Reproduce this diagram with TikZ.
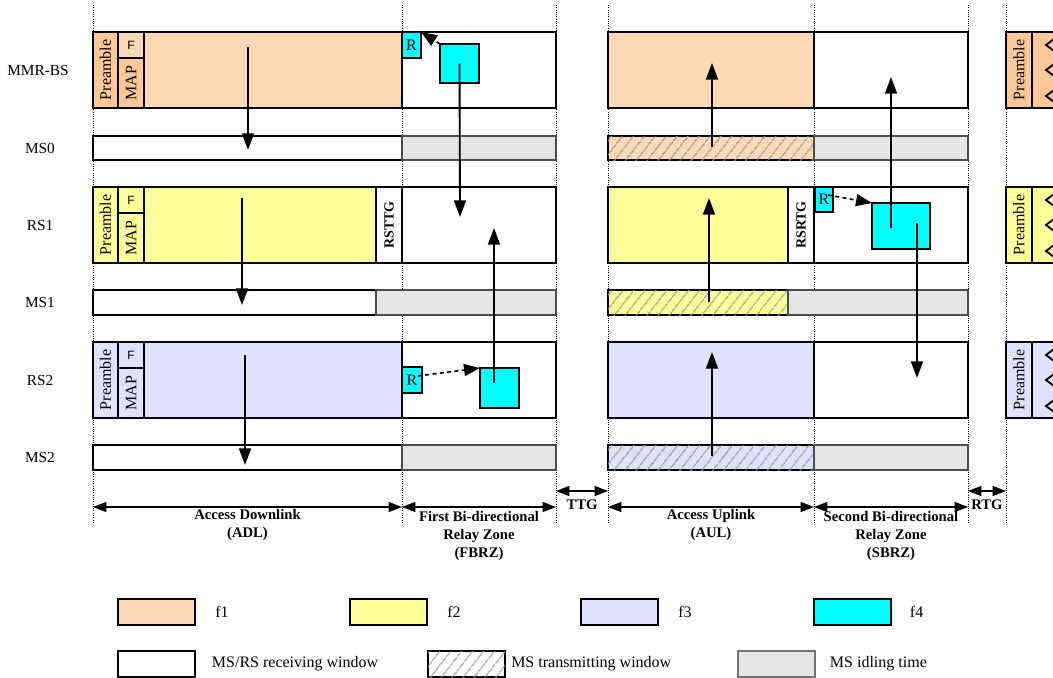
\documentclass[tikz,border=0pt]{standalone}
\usepackage{fontspec}
\setmainfont{Liberation Serif}
\newfontfamily\sansfont{Liberation Sans}
\usepackage{xcolor}
\usepackage{tikz}
\usetikzlibrary{arrows.meta,positioning,calc,fit,patterns.meta}
\definecolor{fone}{HTML}{FDD9B5}
\definecolor{fonedark}{HTML}{FBC896}
\definecolor{ftwo}{HTML}{FFFF99}
\definecolor{fthree}{HTML}{E0E0FF}
\definecolor{ffour}{HTML}{00FFFF}
\definecolor{idlegray}{HTML}{E5E5E5}
\definecolor{hatchgray}{HTML}{999999}
\tikzset{
  frame/.style={draw=black,line width=1.5pt,inner sep=0pt,outer sep=0pt},
  bar/.style={draw=black,line width=0.8pt,inner sep=0pt,outer sep=0pt,fill=white},
  idle/.style={bar,draw=black!70,fill=idlegray},
  txbar/.style={bar,fill=#1,postaction={pattern={Lines[angle=52,distance=6.5pt,line width=0.9pt]},pattern color=hatchgray}},
  relay/.style={draw=black,line width=1.4pt,fill=ffour,inner sep=0pt,outer sep=0pt},
  rbox/.style={draw=black,line width=1pt,fill=ffour,inner sep=0pt,outer sep=0pt,
    label={[font=\fontsize{12}{13}\selectfont]center:R}},
  guide/.style={densely dotted,line width=0.7pt},
  flow/.style={line width=1.4pt,-{Triangle[length=12.5pt,width=9pt]}},
  hop/.style={line width=1.2pt,dash pattern=on 3pt off 2.5pt,-{Triangle[length=12pt,width=9pt]}},
  dim/.style={line width=0.8pt,{Triangle[length=10pt,width=7.5pt]}-{Triangle[length=10pt,width=7.5pt]}},
  zone/.style={font=\fontsize{11}{13.5}\selectfont\bfseries,align=center,inner sep=1pt},
  rowlab/.style={font=\fontsize{11.5}{13}\selectfont},
  vlab/.style={rotate=90,font=\fontsize{12}{14}\selectfont,inner sep=0pt},
  gaplab/.style={rotate=90,font=\fontsize{10.5}{12}\selectfont\bfseries,inner sep=0pt},
  flab/.style={font=\sansfont\fontsize{9}{10}\selectfont,inner sep=0pt},
  legbox/.style={draw=black,line width=0.9pt,inner sep=0pt,outer sep=0pt},
  legtxt/.style={font=\fontsize{12}{14}\selectfont,inner sep=0pt,anchor=west},
}
\begin{document}
\begin{tikzpicture}[x=0.75pt,y=-0.75pt]
  \useasboundingbox (0,0) rectangle (1053,678);
  \clip (0,0) rectangle (1053,678);

  % zone boundaries
  \foreach \x/\n in {93/a,402/b,556/c,608/d,814/e,968/f,1006/g}{
    \draw[guide] (\x,5) -- (\x,522);
    \coordinate (z\n) at (\x,507);
    \coordinate (g\n) at (\x,491);
  }

  % row names
  \node[rowlab] (lbs) at (38,70) {MMR-BS};
  \node[rowlab] (lms0) at (40,148) {MS0};
  \node[rowlab] (lrs1) at (40,225) {RS1};
  \node[rowlab] (lms1) at (40,302) {MS1};
  \node[rowlab] (lrs2) at (40,380) {RS2};
  \node[rowlab] (lms2) at (40,457) {MS2};

  % MMR-BS
  \node[frame,fill=fonedark,fit={(93,32) (118,108)},label={[vlab]center:Preamble}] (bsPre) {};
  \node[frame,fill=fone,fit={(118,32) (144,58)},label={[flab]center:F}] (bsF) {};
  \node[frame,fill=fonedark,fit={(118,58) (144,108)},label={[vlab]center:MAP}] (bsMap) {};
  \node[frame,fill=fone,fit={(144,32) (402,108)}] (bsDl) {};
  \node[frame,fill=white,fit={(402,32) (556,108)}] (bsFb) {};
  \node[rbox,fit={(402,32) (421,58)}] (bsR) {};
  \node[relay,fit={(440,44) (479,83)}] (bsRelay) {};
  \node[frame,fill=fone,fit={(608,32) (814,108)}] (bsUl) {};
  \node[frame,fill=white,fit={(814,32) (968,108)}] (bsSb) {};
  \node[frame,fill=fonedark,fit={(1006,32) (1032,108)},label={[vlab]center:Preamble}] (bsNext) {};
  \node[frame,fill=fonedark,fit={(1032,32) (1070,108)}] (bsNextBody) {};

  % MS0
  \node[bar,fit={(93,136) (402,160)}] (ms0Dl) {};
  \node[idle,fit={(402,136) (556,160)}] (ms0Fb) {};
  \node[txbar=fone,fit={(608,136) (814,160)}] (ms0Ul) {};
  \node[idle,fit={(814,136) (968,160)}] (ms0Sb) {};

  % RS1
  \node[frame,fill=ftwo,fit={(93,187) (118,263)},label={[vlab]center:Preamble}] (rs1Pre) {};
  \node[frame,fill=ftwo,fit={(118,187) (144,213)},label={[flab]center:F}] (rs1F) {};
  \node[frame,fill=ftwo,fit={(118,213) (144,263)},label={[vlab]center:MAP}] (rs1Map) {};
  \node[frame,fill=ftwo,fit={(144,187) (376,263)}] (rs1Dl) {};
  \node[frame,fill=white,fit={(376,187) (402,263)},label={[gaplab]center:RSTTG}] (rs1Ttg) {};
  \node[frame,fill=white,fit={(402,187) (556,263)}] (rs1Fb) {};
  \node[frame,fill=ftwo,fit={(608,187) (788,263)}] (rs1Ul) {};
  \node[frame,fill=white,fit={(788,187) (814,263)},label={[gaplab]center:RSRTG}] (rs1Rtg) {};
  \node[frame,fill=white,fit={(814,187) (968,263)}] (rs1Sb) {};
  \node[rbox,fit={(815,187) (833,212)}] (rs1R) {};
  \node[relay,fit={(872,203) (930,249)}] (rs1Relay) {};
  \node[frame,fill=ftwo,fit={(1006,187) (1032,263)},label={[vlab]center:Preamble}] (rs1Next) {};
  \node[frame,fill=ftwo,fit={(1032,187) (1070,263)}] (rs1NextBody) {};

  % MS1
  \node[bar,fit={(93,290) (376,315)}] (ms1Dl) {};
  \node[idle,fit={(376,290) (556,315)}] (ms1Fb) {};
  \node[txbar=ftwo,fit={(608,290) (788,315)}] (ms1Ul) {};
  \node[idle,fit={(788,290) (968,315)}] (ms1Sb) {};

  % RS2
  \node[frame,fill=fthree,fit={(93,342) (118,418)},label={[vlab]center:Preamble}] (rs2Pre) {};
  \node[frame,fill=fthree,fit={(118,342) (144,368)},label={[flab]center:F}] (rs2F) {};
  \node[frame,fill=fthree,fit={(118,368) (144,418)},label={[vlab]center:MAP}] (rs2Map) {};
  \node[frame,fill=fthree,fit={(144,342) (402,418)}] (rs2Dl) {};
  \node[frame,fill=white,fit={(402,342) (556,418)}] (rs2Fb) {};
  \node[rbox,fit={(402,367) (422,393)}] (rs2R) {};
  \node[relay,fit={(480,368) (519,408)}] (rs2Relay) {};
  \node[frame,fill=fthree,fit={(608,342) (814,418)}] (rs2Ul) {};
  \node[frame,fill=white,fit={(814,342) (968,418)}] (rs2Sb) {};
  \node[frame,fill=fthree,fit={(1006,342) (1032,418)},label={[vlab]center:Preamble}] (rs2Next) {};
  \node[frame,fill=fthree,fit={(1032,342) (1070,418)}] (rs2NextBody) {};

  % MS2
  \node[bar,fit={(93,445) (402,470)}] (ms2Dl) {};
  \node[idle,fit={(402,445) (556,470)}] (ms2Fb) {};
  \node[txbar=fthree,fit={(608,445) (814,470)}] (ms2Ul) {};
  \node[idle,fit={(814,445) (968,470)}] (ms2Sb) {};

  % next frame marks
  \foreach \y in {32,187,342}
    \foreach \d in {13,38,64}
      \draw[line width=1.4pt] (1054,\y+\d-6) -- (1046,\y+\d) -- (1054,\y+\d+6);

  % arrow ends
  \coordinate (dlA0) at (248,47);  \coordinate (dlB0) at (248,150);
  \coordinate (dlA1) at (242,198); \coordinate (dlB1) at (242,305);
  \coordinate (dlA2) at (245,355); \coordinate (dlB2) at (245,465);
  \coordinate (fbDown) at (460,217);
  \coordinate (fbUpA) at (494,383); \coordinate (fbUpB) at (494,228);
  \coordinate (ulA0) at (712,147); \coordinate (ulB0) at (712,63);
  \coordinate (ulA1) at (709,302); \coordinate (ulB1) at (709,198);
  \coordinate (ulA2) at (712,456); \coordinate (ulB2) at (712,352);
  \coordinate (sbUpA) at (891,228); \coordinate (sbUpB) at (891,77);
  \coordinate (sbDnA) at (917,223); \coordinate (sbDnB) at (917,378);
  \coordinate (hop1) at (828,195);
  \coordinate (hop2) at (418,376);

  \draw[flow] (dlA0) -- (dlB0);
  \draw[flow] (dlA1) -- (dlB1);
  \draw[flow] (dlA2) -- (dlB2);
  \draw[flow] (bsRelay.center) -- (fbDown);
  \draw[flow] (fbUpA) -- (fbUpB);
  \draw[flow] (ulA0) -- (ulB0);
  \draw[flow] (ulA1) -- (ulB1);
  \draw[flow] (ulA2) -- (ulB2);
  \draw[flow] (sbUpA) -- (sbUpB);
  \draw[flow] (sbDnA) -- (sbDnB);
  \draw[hop] (bsRelay.north west) -- (bsR.north east);
  \draw[hop] (hop1) -- (rs1Relay.north west);
  \draw[hop] (hop2) -- (rs2Relay.north west);

  % zones
  \draw[dim] (za) -- (zb) node[zone,midway,below] (adl) {Access Downlink\\(ADL)};
  \draw[dim] (zb) -- (zc) node[zone,midway,below=2pt] (fbrz) {First Bi-directional\\Relay Zone\\(FBRZ)};
  \draw[dim] (gc) -- (gd) node[zone,midway,below=5pt] (ttg) {TTG};
  \draw[dim] (zd) -- (ze) node[zone,midway,below] (aul) {Access Uplink\\(AUL)};
  \draw[dim] (ze) -- (zf) node[zone,midway,below=2pt] (sbrz) {Second Bi-directional\\Relay Zone\\(SBRZ)};
  \draw[dim] (gf) -- (gg) node[zone,midway,below=5pt] (rtg) {RTG};

  % legend
  \node[legbox,fill=fone,fit={(118,599) (195,625)}] (keyOne) {};
  \node[legtxt,right=15pt of keyOne] (txtOne) {f1};
  \node[legbox,fill=ftwo,fit={(350,599) (427,625)}] (keyTwo) {};
  \node[legtxt,right=15pt of keyTwo] (txtTwo) {f2};
  \node[legbox,fill=fthree,fit={(581,599) (658,625)}] (keyThree) {};
  \node[legtxt,right=15pt of keyThree] (txtThree) {f3};
  \node[legbox,line width=1.5pt,fill=ffour,fit={(814,599) (891,625)}] (keyFour) {};
  \node[legtxt,right=14pt of keyFour] (txtFour) {f4};
  \node[legbox,fill=white,fit={(118,651) (195,677)}] (keyRx) {};
  \node[legtxt,right=12.5pt of keyRx] (txtRx) {MS/RS receiving window};
  \node[legbox,draw=black!55,txbar=white,fit={(428,651) (505,677)}] (keyTx) {};
  \node[legtxt,right=4.5pt of keyTx] (txtTx) {MS transmitting window};
  \node[legbox,draw=black!55,fill=idlegray,fit={(738,651) (815,677)}] (keyIdle) {};
  \node[legtxt,right=11pt of keyIdle] (txtIdle) {MS idling time};
\end{tikzpicture}
\end{document}
